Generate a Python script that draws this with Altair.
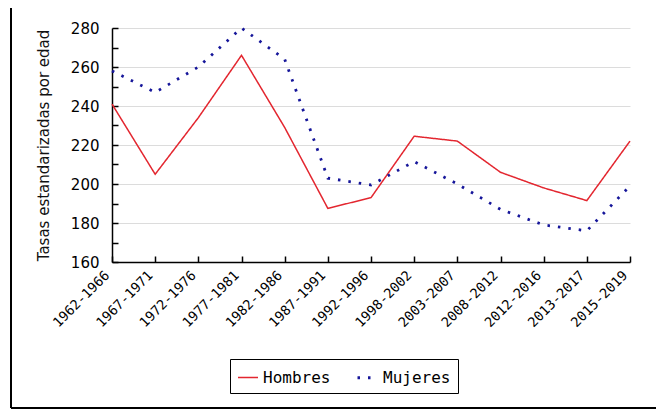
import altair as alt
import pandas as pd

periodos = ["1962-1966", "1967-1971", "1972-1976", "1977-1981", "1982-1986",
            "1987-1991", "1992-1996", "1998-2002", "2003-2007", "2008-2012",
            "2012-2016", "2013-2017", "2015-2019"]
hombres = [241, 205, 234, 266, 229, 187.5, 193, 224.5, 222, 206, 198, 191.5, 222]
mujeres = [258, 247, 260, 280, 264, 203, 199.5, 211.5, 200, 187, 179, 176, 199]
series = ["Hombres", "Mujeres"]
y_labels = [160, 180, 200, 220, 240, 260, 280]
y_minor = [160, 170, 180, 190, 200, 210, 220, 230, 240, 250, 260, 270, 280]

rows = []
for s, vals in zip(series, [hombres, mujeres]):
    for p, v in zip(periodos, vals):
        rows.append({"periodo": p, "serie": s, "tasa": v})
df = pd.DataFrame(rows)

W, H = 518, 234
RED, BLUE = "#e3262f", "#16169a"

xscale = alt.Scale(type="point", padding=0)
yscale = alt.Scale(domain=[160, 280], nice=False, zero=False)

leg = alt.Legend(title=None, orient="none", legendX=118, legendY=331,
                 direction="horizontal", strokeColor="black", fillColor="white",
                 padding=7, labelFont="DejaVu Sans Mono", labelFontSize=16,
                 labelColor="black", symbolType="stroke", symbolSize=400,
                 symbolStrokeWidth=3, columnPadding=20, labelOffset=4)

lines = alt.Chart(df).mark_line(strokeCap="butt").encode(
    x=alt.X("periodo:N", sort=periodos, scale=xscale,
            axis=alt.Axis(title=None, orient="bottom", labelAngle=-45, labelAlign="right",
                          labelBaseline="middle", labelPadding=11, labelOffset=-5,
                          ticks=False, domainColor="black", domainWidth=1.5,
                          labelFont="DejaVu Sans Mono", labelFontSize=13.5,
                          labelColor="black", grid=False)),
    y=alt.Y("tasa:Q", scale=yscale,
            axis=alt.Axis(title="Tasas estandarizadas por edad", orient="left", values=y_labels,
                          ticks=False, labelPadding=13, domainColor="black",
                          domainWidth=1.5, grid=True, gridColor="#dcdcdc",
                          labelFont="DejaVu Sans", labelFontSize=15,
                          labelColor="black", titleFont="DejaVu Sans",
                          titleFontSize=15, titleFontWeight="normal",
                          titleColor="#111111", titlePadding=19)),
    color=alt.Color("serie:N", scale=alt.Scale(domain=series, range=[RED, BLUE]), legend=leg),
    strokeDash=alt.StrokeDash("serie:N", scale=alt.Scale(domain=series, range=[[1, 0], [2.5, 8]]), legend=leg),
    strokeWidth=alt.StrokeWidth("serie:N", scale=alt.Scale(domain=series, range=[1.5, 2.8]), legend=None),
)

ticks = alt.Chart(df).mark_point(opacity=0).encode(
    x=alt.X("periodo:N", sort=periodos, scale=xscale,
            axis=alt.Axis(title=None, orient="top", offset=-H, labels=False,
                          domain=False, ticks=True, tickSize=6, tickColor="black",
                          tickWidth=1.5, grid=False)),
    y=alt.Y("tasa:Q", scale=yscale,
            axis=alt.Axis(title=None, orient="right", offset=-W, values=y_minor,
                          labels=False, domain=False, ticks=True, tickSize=6,
                          tickColor="black", tickWidth=1.5, grid=False)),
)

frame_df = pd.DataFrame({"k": [0]})
frame_left = alt.Chart(frame_df).mark_rule(color="black", strokeWidth=2).encode(
    x=alt.value(-101), y=alt.value(-20), y2=alt.value(380))
frame_bottom = alt.Chart(frame_df).mark_rule(color="black", strokeWidth=2).encode(
    x=alt.value(-101), x2=alt.value(544), y=alt.value(380))

chart = alt.layer(lines, ticks, frame_left, frame_bottom).resolve_axis(
    x="independent", y="independent"
).properties(
    width=W, height=H,
    autosize=alt.AutoSizeParams(type="none"),
    padding={"left": 104, "top": 20, "right": 26, "bottom": 148},
    background="white",
).configure_view(stroke=None)

chart.save("out.html", embed_options={"renderer": "svg", "actions": False})
